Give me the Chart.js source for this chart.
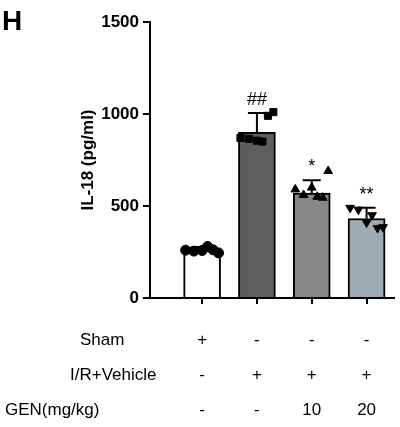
<!DOCTYPE html>
<html>
<head>
<script src="https://cdn.jsdelivr.net/npm/chart.js@4/dist/chart.umd.min.js"></script>
<style>body{margin:0;background:#fff}#wrap{width:400px;height:427px}</style>
</head>
<body>
<div id="wrap"><canvas id="myChart"></canvas></div>
<script>
const groups = ['Sham', 'I/R+Vehicle', 'GEN 10', 'GEN 20'];
const means = [262, 900, 570, 432];
const sds = [15, 105, 70, 58];
const marks = ['', '##', '*', '**'];
const barColors = ['#ffffff', '#5e5e5e', '#878787', '#9eabb3'];
const pointStyles = ['circle', 'rect', 'triangle', 'triangle'];
const pointRotations = [0, 0, 0, 180];
const shamPts = [260, 255, 258, 280, 262, 245];
const vehiclePts = [870, 865, 855, 850, 990, 1010];
const gen10Pts = [590, 560, 600, 550, 545, 690];
const gen20Pts = [490, 480, 410, 450, 380, 385];
const jitter = [-0.3, -0.15, 0, 0.1, 0.2, 0.3];
const allPts = [shamPts, vehiclePts, gen10Pts, gen20Pts];
const tableRows = [
  { label: 'Sham', x: 80, cells: ['+', '-', '-', '-'] },
  { label: 'I/R+Vehicle', x: 70, cells: ['-', '+', '+', '+'] },
  { label: 'GEN(mg/kg)', x: 5, cells: ['-', '-', '10', '20'] }
];

const ctx = document.getElementById('myChart');

const extras = {
  id: 'extras',
  afterDatasetsDraw(chart) {
    const c = chart.ctx, xs = chart.scales.x, ys = chart.scales.y;
    c.save();
    c.strokeStyle = '#000'; c.lineWidth = 2;
    means.forEach((m, i) => {
      const x = xs.getPixelForValue(i);
      const y0 = ys.getPixelForValue(m), y1 = ys.getPixelForValue(m + sds[i]);
      c.beginPath(); c.moveTo(x, y0); c.lineTo(x, y1);
      c.moveTo(x - 9, y1); c.lineTo(x + 9, y1); c.stroke();
      c.fillStyle = '#000'; c.font = '18px "Liberation Sans"'; c.textAlign = 'center';
      c.fillText(marks[i], x, y1 - 8);
    });
    c.font = '17px "Liberation Sans"';
    tableRows.forEach((r, k) => {
      const y = 345 + k * 35;
      c.textAlign = 'left'; c.fillText(r.label, r.x, y);
      c.textAlign = 'center';
      r.cells.forEach((t, i) => c.fillText(t, xs.getPixelForValue(i), y));
    });
    c.font = 'bold 28px "Liberation Sans"'; c.textAlign = 'left';
    c.fillText('H', 2, 30);
    c.restore();
  }
};

const datasets = [{
  type: 'bar',
  data: means.map((m, i) => ({ x: i, y: m })),
  backgroundColor: barColors,
  borderColor: '#000',
  borderWidth: 2,
  barThickness: 37,
  order: 2
}];
allPts.forEach((pts, i) => {
  datasets.push({
    type: 'scatter',
    data: pts.map((v, j) => ({ x: i + jitter[j], y: v })),
    pointStyle: pointStyles[i],
    rotation: pointRotations[i],
    pointRadius: 5,
    backgroundColor: '#000',
    borderColor: '#000',
    order: 1
  });
});

new Chart(ctx, {
  data: { datasets },
  plugins: [extras],
  options: {
    animation: false,
    maintainAspectRatio: false,
    responsive: true,
    layout: { padding: { top: 22, right: 2, left: 78, bottom: 0 } },
    plugins: { legend: { display: false }, tooltip: { enabled: false } },
    scales: {
      x: {
        type: 'linear', min: -0.95, max: 3.5, offset: false,
        afterBuildTicks: s => { s.ticks = [0, 1, 2, 3].map(v => ({ value: v })); },
        afterFit: s => { s.height = 129; },
        ticks: { callback: () => '' },
        grid: { drawOnChartArea: false, offset: false, tickLength: 6, color: '#000', lineWidth: 2 },
        border: { color: '#000', width: 2 }
      },
      y: {
        min: 0, max: 1500,
        afterFit: s => { s.width = 72; },
        ticks: { stepSize: 500, padding: 4, color: '#000', callback: v => String(v), font: { size: 17, weight: 'bold', family: 'Liberation Sans' } },
        grid: { drawOnChartArea: false, tickLength: 7, color: '#000', lineWidth: 2 },
        border: { color: '#000', width: 2 },
        title: { display: true, text: 'IL-18 (pg/ml)', padding: 0, color: '#000', font: { size: 17, weight: 'bold', family: 'Liberation Sans' } }
      }
    }
  }
});
</script>
</body>
</html>
